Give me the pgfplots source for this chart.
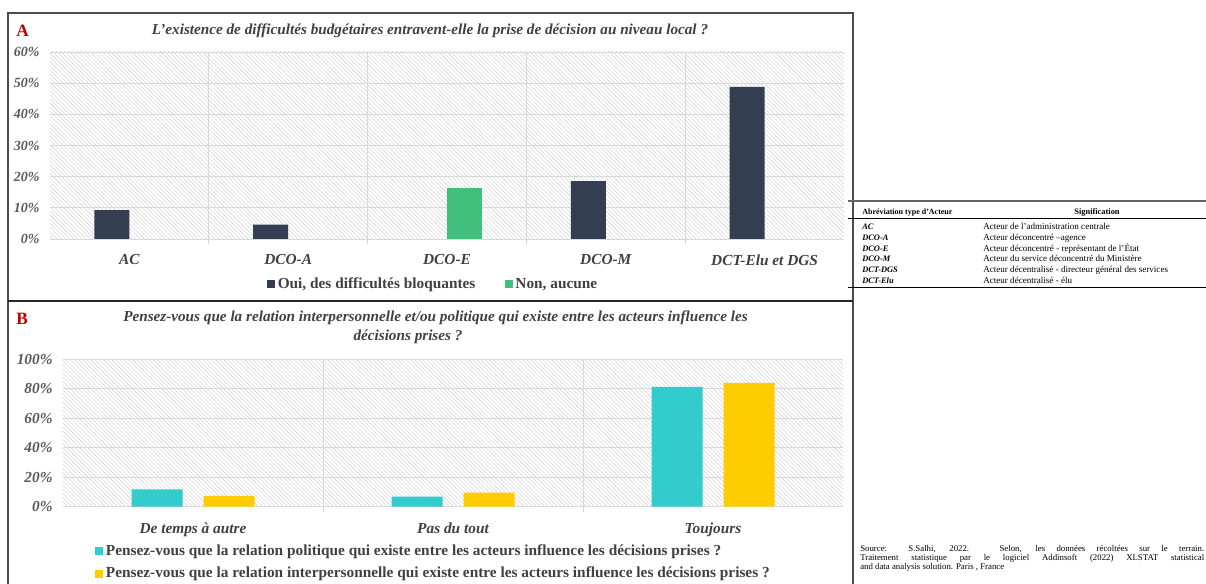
\documentclass[border=0pt]{standalone}
\usepackage{pgfplots}
\pgfplotsset{compat=1.18}
\usepackage{fontspec}
\setmainfont{Liberation Serif}
\usetikzlibrary{patterns.meta}
\definecolor{navy}{RGB}{51,63,80}
\definecolor{grn}{RGB}{64,192,122}
\definecolor{cyn}{RGB}{51,204,204}
\definecolor{yel}{RGB}{255,204,0}
\definecolor{txt}{RGB}{64,64,64}
\definecolor{tickc}{RGB}{89,89,89}
\definecolor{lab}{RGB}{192,0,0}
\pgfplotsset{
 panel/.style={
  scale only axis, anchor=south west, ybar,
  axis line style={draw=none},
  tick pos=left,
  major tick style={draw=none},
  minor tick style={draw=black!18, line width=0.6pt},
  minor tick length=4pt, tick align=outside,
  ymajorgrids, xminorgrids,
  major grid style={draw=black!15, line width=0.6pt},
  minor grid style={draw=black!15, line width=0.6pt},
  axis background/.style={fill=white, postaction={pattern={Lines[angle=-45,distance=2.2pt,line width=0.3pt]}, pattern color=black!20}},
  yticklabel style={text=tickc, font=\bfseries\itshape\fontsize{10.5}{12}\selectfont},
  xticklabel style={text=txt, font=\bfseries\itshape\fontsize{11.5}{13}\selectfont, yshift=-4pt},
  /pgf/number format/assume math mode=true,
  legend image code/.code={\fill[##1,draw=none] (0pt,-3pt) rectangle (6pt,3pt);},
  legend style={draw=none, fill=none, inner sep=0pt, text=txt, font=\bfseries\fontsize{11.5}{13}\selectfont},
  clip=false,
 }
}
\begin{document}
\begin{tikzpicture}
\useasboundingbox (0,0) rectangle (904.5pt,438pt);
% ---------- Panel A ----------
\begin{axis}[panel,
  at={(37.5pt,258.75pt)}, width=595.5pt, height=140.25pt,
  ymin=0, ymax=60, xmin=-0.5, xmax=4.5,
  ytick={0,10,20,30,40,50,60},
  yticklabels={0\%,10\%,20\%,30\%,40\%,50\%,60\%},
  xtick={0,1,2,3,4},
  xticklabels={AC,DCO-A,DCO-E,DCO-M,DCT-Elu et DGS},
  minor xtick={0.5,1.5,2.5,3.5},
  bar width=26.25pt,
  legend columns=2,
  legend style={at={(0.483,-0.2406)}, anchor=center,
    /tikz/every even column/.append style={column sep=20pt}},
]
\addplot[fill=navy, draw=none, bar shift=-13.125pt] coordinates {(0,9.3) (1,4.6) (3,18.6) (4,48.8)};
\addlegendentry{Oui, des difficultés bloquantes}
\addplot[fill=grn, draw=none, bar shift=13.125pt] coordinates {(2,16.3)};
\addlegendentry{Non, aucune}
\end{axis}
% ---------- Panel B ----------
\begin{axis}[panel,
  at={(47.25pt,57.98pt)}, width=585pt, height=110.5pt,
  ymin=0, ymax=100, xmin=-0.5, xmax=2.5,
  ytick={0,20,40,60,80,100},
  yticklabels={0\%,20\%,40\%,60\%,80\%,100\%},
  yticklabel style={font=\bfseries\itshape\fontsize{11.5}{13}\selectfont},
  xtick={0,1,2},
  xticklabels={De temps à autre,Pas du tout,Toujours},
  minor xtick={0.5,1.5},
  bar width=38.25pt,
  legend columns=1,
  legend cell align=left,
  legend style={at={(0.041,-0.3788)}, anchor=west, row sep=3pt},
]
\addplot[fill=cyn, draw=none, bar shift=-27pt] coordinates {(0,11.8) (1,6.8) (2,81.4)};
\addlegendentry{Pensez-vous que la relation politique qui existe entre les acteurs influence les décisions prises ?}
\addplot[fill=yel, draw=none, bar shift=27pt] coordinates {(0,7.3) (1,9.5) (2,84.1)};
\addlegendentry{Pensez-vous que la relation interpersonnelle qui existe entre les acteurs influence les décisions prises ?}
\end{axis}
% ---------- decorations in pixel coordinates ----------
\begin{scope}[x=0.75pt, y=-0.75pt, yshift=438pt]
  \draw[black!70, line width=0.9pt] (8,590) -- (8,13) -- (853,13) -- (853,590);
  \draw[black!85, line width=0.9pt] (8,301) -- (853,301);
  \node[text=lab, font=\bfseries\fontsize{13}{15}\selectfont, anchor=west, inner sep=0] at (16,30.5) {A};
  \node[text=lab, font=\bfseries\fontsize{13}{15}\selectfont, anchor=west, inner sep=0] at (16,318.5) {B};
  \node[text=txt, font=\bfseries\itshape\fontsize{11.4}{13}\selectfont, inner sep=0] at (430,31) {L’existence de difficultés budgétaires entravent-elle la prise de décision au niveau local ?};
  \node[text=txt, font=\bfseries\itshape\fontsize{11.4}{13}\selectfont, inner sep=0] at (435.5,318) {Pensez-vous que la relation interpersonnelle et/ou politique qui existe entre les acteurs influence les};
  \node[text=txt, font=\bfseries\itshape\fontsize{11.4}{13}\selectfont, inner sep=0] at (408,337) {décisions prises ?};
  % table
  \draw[black!60, line width=1pt] (848,201) -- (1206,201);
  \draw[black, line width=0.4pt] (848,218) -- (1206,218);
  \draw[black, line width=0.4pt] (848,287) -- (1206,287);
  \begin{scope}[every node/.style={inner sep=0, anchor=base west, font=\fontsize{6.8}{8}\selectfont}]
    \node[font=\bfseries\fontsize{6}{7}\selectfont] at (862,214.5) {Abréviation type d'Acteur};
    \node[font=\bfseries\fontsize{6.3}{7}\selectfont, anchor=base] at (1097,214.5) {Signification};
    \node[font=\bfseries\itshape\fontsize{6.3}{7}\selectfont] at (862,229.5) {AC};
    \node[font=\bfseries\itshape\fontsize{6.3}{7}\selectfont] at (862,240.5) {DCO-A};
    \node[font=\bfseries\itshape\fontsize{6.3}{7}\selectfont] at (862,251.5) {DCO-E};
    \node[font=\bfseries\itshape\fontsize{6.3}{7}\selectfont] at (862,262) {DCO-M};
    \node[font=\bfseries\itshape\fontsize{6.3}{7}\selectfont] at (862,272.5) {DCT-DGS};
    \node[font=\bfseries\itshape\fontsize{6.3}{7}\selectfont] at (862,283.5) {DCT-Elu};
    \node at (983,229.5) {Acteur de l'administration centrale};
    \node at (983,240.5) {Acteur déconcentré –agence};
    \node at (983,251.5) {Acteur déconcentré - représentant de l’État};
    \node at (983,262) {Acteur du service déconcentré du Ministère};
    \node at (983,272.5) {Acteur décentralisé - directeur général des services};
    \node at (983,283.5) {Acteur décentralisé - élu};
  \end{scope}
  \node[anchor=north west, inner sep=0, text width=258pt, align=justify, font=\fontsize{6.6}{6.8}\selectfont] at (860,545)
   {Source: S.Salhi, 2022. Selon, les données récoltées sur le terrain.\linebreak Traitement statistique par le logiciel Addinsoft (2022) XLSTAT statistical\linebreak and data analysis solution. Paris , France};
\end{scope}
\end{tikzpicture}
\end{document}
